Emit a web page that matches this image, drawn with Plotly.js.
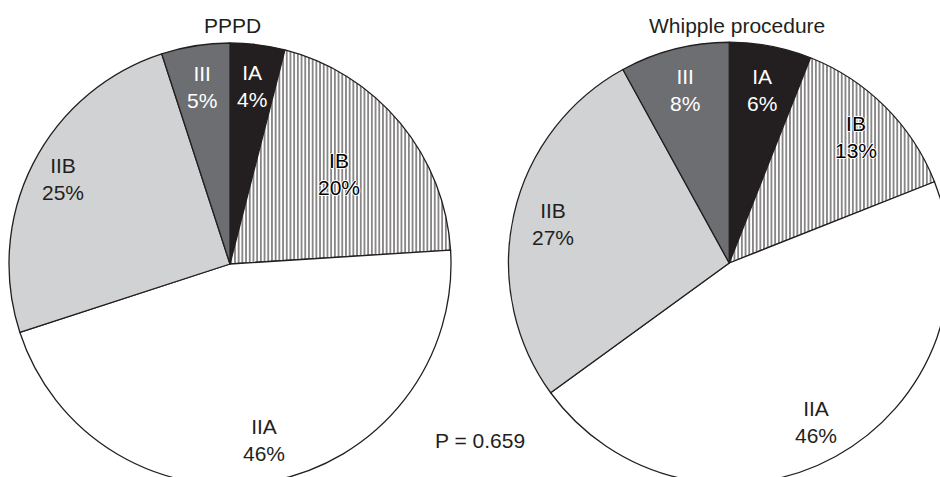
<!DOCTYPE html>
<html>
<head>
<meta charset="utf-8">
<script src="https://cdn.plot.ly/plotly-3.0.1.min.js"></script>
<style>
html,body{margin:0;padding:0;background:#fff;overflow:hidden;width:940px;height:477px;}
#chart{position:absolute;left:0;top:0;width:960px;height:500px;}
</style>
</head>
<body>
<div id="chart"></div>
<script>
// ---- data ----
var stages = ["IA", "IB", "IIA", "IIB", "III"];
var pppdValues = [4, 20, 46, 25, 5];
var whippleValues = [6, 13, 46, 27, 8];
var pppdTitle = "PPPD";
var whippleTitle = "Whipple procedure";
var pValueText = "P = 0.659";

// ---- styling ----
var W = 960, H = 500;
var fontFam = "Liberation Sans, Arial, sans-serif";
var fontSize = 21;
var sliceColors = ["#231f20", "#ffffff", "#ffffff", "#d1d2d4", "#6d6e71"];
var patternShapes = ["", "|", "", "", ""];
var labelColors = ["#ffffff", "#000000", "#231f20", "#231f20", "#ffffff"];
var labelShadow = ["none", "1px 0 0 #fff, -1px 0 0 #fff, 0 1px 0 #fff, 0 -1px 0 #fff", "none", "none", "none"];
var pppdLabelRadius = [0.81, 0.64, 0.81, 0.85, 0.81];
var whippleLabelRadius = [0.80, 0.81, 0.82, 0.82, 0.81];
var pppdDomain = {x: [9 / W, 451 / W], y: [1 - 485 / H, 1 - 43 / H]};
var whippleDomain = {x: [508.5 / W, 950 / W], y: [1 - 484 / H, 1 - 42 / H]};

function pieTrace(values, domain) {
  return {
    type: "pie",
    labels: stages,
    values: values,
    sort: false,
    direction: "clockwise",
    rotation: 0,
    textinfo: "none",
    hoverinfo: "label+percent",
    domain: domain,
    marker: {
      colors: sliceColors,
      line: {color: "#231f20", width: 1.3},
      pattern: {
        shape: patternShapes,
        fgcolor: "#231f20",
        bgcolor: "#ffffff",
        size: 3.7,
        solidity: 0.27,
        fillmode: "replace"
      }
    },
    showlegend: false
  };
}

function sliceLabels(values, domain, radii) {
  var cx = (domain.x[0] + domain.x[1]) / 2 * W;
  var cy = (1 - (domain.y[0] + domain.y[1]) / 2) * H;
  var R = Math.min((domain.x[1] - domain.x[0]) * W, (domain.y[1] - domain.y[0]) * H) / 2;
  var total = values.reduce(function (a, b) { return a + b; }, 0);
  var cum = 0;
  var anns = [];
  values.forEach(function (v, i) {
    var mid = (cum + v / 2) / total * 2 * Math.PI;
    cum += v;
    var px = cx + radii[i] * R * Math.sin(mid);
    var py = cy - radii[i] * R * Math.cos(mid);
    anns.push({
      xref: "paper", yref: "paper",
      x: px / W, y: 1 - py / H,
      xanchor: "center", yanchor: "middle",
      showarrow: false,
      text: stages[i] + "<br>" + Math.round(v / total * 100) + "%",
      font: {family: fontFam, size: fontSize, color: labelColors[i], shadow: labelShadow[i]}
    });
  });
  return anns;
}

var annotations = []
  .concat(sliceLabels(pppdValues, pppdDomain, pppdLabelRadius))
  .concat(sliceLabels(whippleValues, whippleDomain, whippleLabelRadius));

annotations.push({xref: "paper", yref: "paper", x: 232 / W, y: 1 - 25 / H, xanchor: "center", yanchor: "middle",
  showarrow: false, text: pppdTitle, font: {family: fontFam, size: fontSize, color: "#231f20"}});
annotations.push({xref: "paper", yref: "paper", x: 737 / W, y: 1 - 25 / H, xanchor: "center", yanchor: "middle",
  showarrow: false, text: whippleTitle, font: {family: fontFam, size: fontSize, color: "#231f20"}});
annotations.push({xref: "paper", yref: "paper", x: 480 / W, y: 1 - 440 / H, xanchor: "center", yanchor: "middle",
  showarrow: false, text: pValueText, font: {family: fontFam, size: fontSize, color: "#231f20"}});

var layout = {
  width: W, height: H,
  margin: {l: 0, r: 0, t: 0, b: 0},
  paper_bgcolor: "#ffffff",
  font: {family: fontFam, size: fontSize, color: "#231f20"},
  showlegend: false,
  annotations: annotations
};

Plotly.newPlot("chart", [pieTrace(pppdValues, pppdDomain), pieTrace(whippleValues, whippleDomain)], layout,
  {displayModeBar: false, staticPlot: true});
</script>
</body>
</html>
